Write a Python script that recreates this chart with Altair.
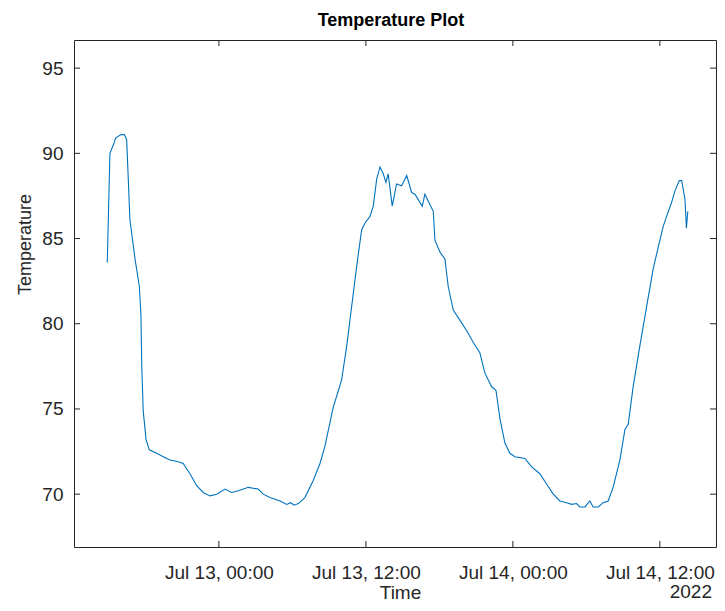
import altair as alt
import pandas as pd

# ---- data ----
times = [
    "2022-07-12T14:53", "2022-07-12T15:06", "2022-07-12T15:23", "2022-07-12T15:34",
    "2022-07-12T16:00", "2022-07-12T16:17", "2022-07-12T16:28", "2022-07-12T16:44",
    "2022-07-12T17:09", "2022-07-12T17:30", "2022-07-12T17:38", "2022-07-12T17:42",
    "2022-07-12T17:49", "2022-07-12T18:03", "2022-07-12T18:19", "2022-07-12T18:55",
    "2022-07-12T19:27", "2022-07-12T20:00", "2022-07-12T20:41", "2022-07-12T21:05",
    "2022-07-12T21:38", "2022-07-12T22:11", "2022-07-12T22:43", "2022-07-12T23:16",
    "2022-07-12T23:49", "2022-07-13T00:30", "2022-07-13T01:02", "2022-07-13T01:35",
    "2022-07-13T02:24", "2022-07-13T03:12", "2022-07-13T03:37", "2022-07-13T04:10",
    "2022-07-13T04:59", "2022-07-13T05:32", "2022-07-13T05:51", "2022-07-13T06:08",
    "2022-07-13T06:29", "2022-07-13T07:01", "2022-07-13T07:42", "2022-07-13T08:15",
    "2022-07-13T08:39", "2022-07-13T09:20", "2022-07-13T10:01", "2022-07-13T10:26",
    "2022-07-13T10:50", "2022-07-13T11:15", "2022-07-13T11:39", "2022-07-13T11:55",
    "2022-07-13T12:20", "2022-07-13T12:36", "2022-07-13T12:53", "2022-07-13T13:09",
    "2022-07-13T13:25", "2022-07-13T13:38", "2022-07-13T13:49", "2022-07-13T14:09",
    "2022-07-13T14:30", "2022-07-13T14:55", "2022-07-13T15:20", "2022-07-13T15:44",
    "2022-07-13T16:00", "2022-07-13T16:16", "2022-07-13T16:36", "2022-07-13T16:49",
    "2022-07-13T17:05", "2022-07-13T17:30", "2022-07-13T17:38", "2022-07-13T18:03",
    "2022-07-13T18:27", "2022-07-13T18:43", "2022-07-13T19:08", "2022-07-13T19:41",
    "2022-07-13T20:13", "2022-07-13T20:46", "2022-07-13T21:18", "2022-07-13T21:43",
    "2022-07-13T22:16", "2022-07-13T22:37", "2022-07-13T22:57", "2022-07-13T23:21",
    "2022-07-13T23:45", "2022-07-14T00:10", "2022-07-14T00:59", "2022-07-14T01:32",
    "2022-07-14T02:12", "2022-07-14T02:45", "2022-07-14T03:18", "2022-07-14T03:50",
    "2022-07-14T04:23", "2022-07-14T04:48", "2022-07-14T05:12", "2022-07-14T05:28",
    "2022-07-14T05:53", "2022-07-14T06:17", "2022-07-14T06:33", "2022-07-14T06:58",
    "2022-07-14T07:22", "2022-07-14T07:47", "2022-07-14T08:11", "2022-07-14T08:44",
    "2022-07-14T09:09", "2022-07-14T09:25", "2022-07-14T09:49", "2022-07-14T10:22",
    "2022-07-14T10:55", "2022-07-14T11:27", "2022-07-14T11:52", "2022-07-14T12:16",
    "2022-07-14T12:33", "2022-07-14T12:57", "2022-07-14T13:14", "2022-07-14T13:35",
    "2022-07-14T13:47", "2022-07-14T14:03", "2022-07-14T14:10", "2022-07-14T14:17",
]
temps = [
    83.6, 90.0, 90.5, 90.9,
    91.1, 91.1, 90.8, 86.1,
    83.8, 82.2, 80.5, 77.5,
    74.9, 73.2, 72.6, 72.4,
    72.2, 72.0, 71.9, 71.8,
    71.2, 70.5, 70.1, 69.9,
    70.0, 70.3, 70.1, 70.2,
    70.4, 70.3, 70.0, 69.8,
    69.6, 69.4, 69.5, 69.35,
    69.45, 69.8, 70.8, 71.8,
    72.8, 75.1, 76.7, 78.7,
    81.0, 83.4, 85.5, 85.9,
    86.3, 86.9, 88.5, 89.2,
    88.8, 88.3, 88.8, 86.9,
    88.2, 88.1, 88.7, 87.7,
    87.6, 87.3, 86.9, 87.6,
    87.2, 86.6, 84.9, 84.2,
    83.8, 82.2, 80.8, 80.2,
    79.6, 78.9, 78.3, 77.1,
    76.3, 76.1, 74.4, 73.0,
    72.4, 72.2, 72.1, 71.6,
    71.2, 70.6, 70.0, 69.6,
    69.5, 69.4, 69.45, 69.25,
    69.25, 69.6, 69.25, 69.25,
    69.5, 69.6, 70.4, 72.0,
    73.8, 74.1, 76.3, 78.7,
    81.0, 83.2, 84.5, 85.7,
    86.3, 87.1, 87.8, 88.4,
    88.4, 87.3, 85.6, 86.6,
]
y_ticks = [70, 75, 80, 85, 90, 95]
x_ticks = ["2022-07-13T00:00", "2022-07-13T12:00", "2022-07-14T00:00", "2022-07-14T12:00"]

W, H = 642, 507
FONT = "Liberation Sans"
AX = "#262626"

df = pd.DataFrame({"Time": times, "Temperature": temps})
yt = pd.DataFrame({"Temperature": y_ticks})
xt = pd.DataFrame({"Time": x_ticks})

xscale = alt.Scale(domain=[alt.DateTime(year=2022, month=7, date=12, hours=12, minutes=10),
                           alt.DateTime(year=2022, month=7, date=14, hours=16, minutes=35)])
yscale = alt.Scale(domain=[66.9, 96.65], nice=False, zero=False)

xtick_dt = [alt.DateTime(year=2022, month=7, date=13, hours=0),
            alt.DateTime(year=2022, month=7, date=13, hours=12),
            alt.DateTime(year=2022, month=7, date=14, hours=0),
            alt.DateTime(year=2022, month=7, date=14, hours=12)]

xaxis = alt.Axis(title="Time", values=xtick_dt, format="%b %d, %H:%M",
                 ticks=False, domain=False, grid=False,
                 labelPadding=16, labelFontSize=19, labelColor=AX,
                 labelFont=FONT, labelFlush=False, labelOverlap=False,
                 titleFont=FONT, titleFontSize=19, titleFontWeight="normal",
                 titleColor=AX, titleY=51, titleX=326,
                 titleBaseline="alphabetic", titleAnchor="middle")
yaxis = alt.Axis(title="Temperature", values=y_ticks,
                 ticks=False, domain=False, grid=False,
                 labelPadding=11, labelFontSize=19, labelColor=AX,
                 labelFont=FONT,
                 titleFont=FONT, titleFontSize=18, titleFontWeight="normal",
                 titleColor=AX, titleX=-40, titleY=204,
                 titleBaseline="bottom", titleAlign="center")

X = alt.X("Time:T", scale=xscale, axis=xaxis)
Y = alt.Y("Temperature:Q", scale=yscale, axis=yaxis)

line = alt.Chart(df).mark_line(color="#0072BD", strokeWidth=1.1).encode(x=X, y=Y)

left_t = alt.Chart(yt).mark_rule(color=AX, strokeWidth=1).encode(
    y=Y, x=alt.value(0), x2=alt.value(6))
right_t = alt.Chart(yt).mark_rule(color=AX, strokeWidth=1).encode(
    y=Y, x=alt.value(W - 6), x2=alt.value(W))
top_t = alt.Chart(xt).mark_rule(color=AX, strokeWidth=1).encode(
    x=X, y=alt.value(0), y2=alt.value(6))
bot_t = alt.Chart(xt).mark_rule(color=AX, strokeWidth=1).encode(
    x=X, y=alt.value(H - 6), y2=alt.value(H))

title = alt.Chart(pd.DataFrame({"s": ["Temperature Plot"]})).mark_text(
    font=FONT, fontSize=18, fontWeight="bold", color="#000000",
    baseline="alphabetic", align="center").encode(
    text="s:N", x=alt.value(W / 2 - 4), y=alt.value(-14))

year = alt.Chart(pd.DataFrame({"s": ["2022"]})).mark_text(
    font=FONT, fontSize=19, color=AX, baseline="alphabetic", align="right").encode(
    text="s:N", x=alt.value(638), y=alt.value(H + 51))

chart = alt.layer(line, left_t, right_t, top_t, bot_t, title, year).properties(
    width=W, height=H,
    autosize=alt.AutoSizeParams(type="none"),
    padding={"left": 66, "top": 32, "right": 1, "bottom": 56},
    background="white",
).configure_view(stroke=AX, strokeWidth=1)

chart.save("out.html", embed_options={"renderer": "svg", "actions": False})
